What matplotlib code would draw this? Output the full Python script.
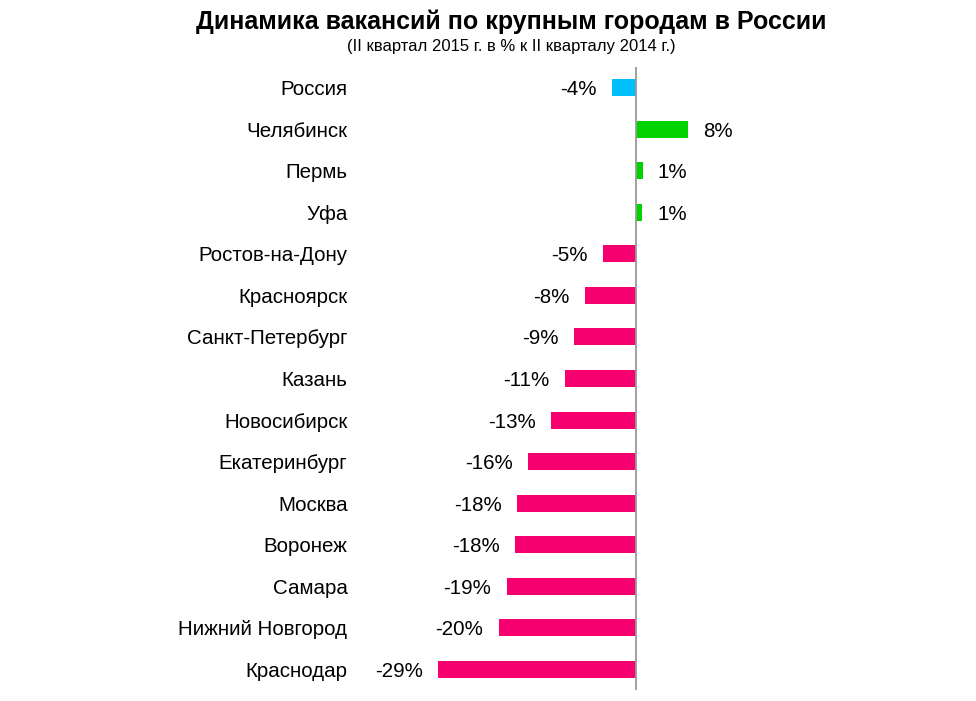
import matplotlib
matplotlib.use('Agg')
import matplotlib.pyplot as plt

plt.rcParams['font.family'] = ['Liberation Sans', 'DejaVu Sans']

# данные (оценены по картинке)
cities = ['Россия', 'Челябинск', 'Пермь', 'Уфа', 'Ростов-на-Дону', 'Красноярск',
          'Санкт-Петербург', 'Казань', 'Новосибирск', 'Екатеринбург', 'Москва',
          'Воронеж', 'Самара', 'Нижний Новгород', 'Краснодар']
values = [-3.5, 7.6, 1.0, 0.9, -4.8, -7.5, -9.1, -10.4, -12.4, -15.8, -17.4,
          -17.7, -18.9, -20.1, -29.0]
labels = ['-4%', '8%', '1%', '1%', '-5%', '-8%', '-9%', '-11%', '-13%', '-16%',
          '-18%', '-18%', '-19%', '-20%', '-29%']

colors = []
for i, v in enumerate(values):
    if i == 0:
        colors.append('#00BFFF')
    elif v > 0:
        colors.append('#00D300')
    else:
        colors.append('#F5006E')

fig = plt.figure(figsize=(9.76, 7.01), dpi=100)
ax = fig.add_axes([360 / 976, 1 - 690 / 701, 400 / 976, 623 / 701])

y = list(range(len(cities)))
ax.barh(y, values, height=0.41, color=colors)
ax.set_ylim(len(cities) - 0.5, -0.5)
ax.set_xlim(-40.4, 18.2)
ax.axvline(0, color='#999999', lw=1.3)

ax.set_yticks(y)
ax.set_yticklabels(cities, fontsize=14.8, va='center_baseline')
ax.tick_params(axis='y', length=0, pad=9)
ax.set_xticks([])
for s in ax.spines.values():
    s.set_visible(False)

for yi, v, t in zip(y, values, labels):
    if v < 0:
        ax.annotate(t, (v, yi), xytext=(-11, 0), textcoords='offset points',
                    ha='right', va='center_baseline', fontsize=14.8)
    else:
        ax.annotate(t, (v, yi), xytext=(11, 0), textcoords='offset points',
                    ha='left', va='center_baseline', fontsize=14.8)

fig.text(511 / 976, 1 - 22 / 701, 'Динамика вакансий по крупным городам в России',
         ha='center', va='center', fontsize=18, fontweight='bold')
fig.text(511 / 976, 1 - 46 / 701, '(II квартал 2015 г. в % к II кварталу 2014 г.)',
         ha='center', va='center', fontsize=12)

fig.savefig('out.png', dpi=100)
